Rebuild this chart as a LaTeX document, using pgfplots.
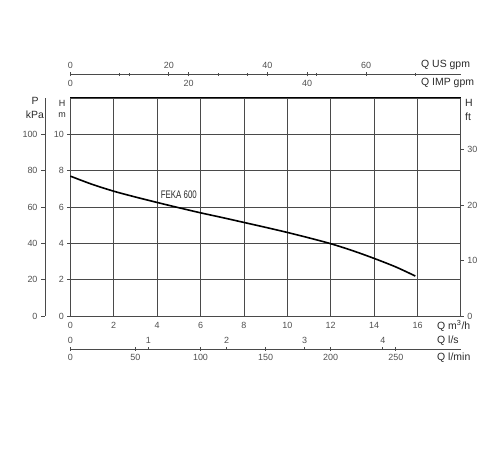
\documentclass[border=0pt]{standalone}
\usepackage{fontspec}
\setmainfont{Liberation Sans}
\newfontfamily\narrowfont[FakeStretch=0.72]{Liberation Sans}
\usepackage{pgfplots}
\pgfplotsset{compat=1.18}
\definecolor{gridc}{HTML}{4A4A4A}
\definecolor{tickc}{HTML}{505050}
\definecolor{labc}{HTML}{2A2A2A}
\pgfplotsset{
 common/.style={scale only axis,
   /pgf/number format/assume math mode=true,
   tick label style={font=\fontsize{9}{10}\selectfont, text=tickc},
   axis line style={-, color=gridc, line width=0.9bp},
   tick style={color=gridc, line width=0.8bp},
   major tick length=4bp, minor tick length=3bp, tick align=outside},
 noarrow/.style={x axis line style={-}, y axis line style={-}},
}
\begin{document}
\begin{tikzpicture}
\path[use as bounding box] (0,0) rectangle (500bp,450bp);

% main H (m) axis
\begin{axis}[common, at={(70.3bp,134bp)}, anchor=south west,
  width=390.6bp, height=218bp,
  xmin=0, xmax=18, ymin=0, ymax=12,
  xtick={0,2,...,16}, ytick={0,2,...,10},
  grid=major, major grid style={color=gridc, line width=0.8bp},
  xtick pos=bottom, ytick pos=left,
  xtick style={draw=none}, major tick length=3bp,
  clip=false]
\addplot[black, line width=1.6bp, smooth] coordinates {
 (0,7.7) (1,7.25) (2,6.87) (3,6.55) (4,6.25) (5,5.96) (6,5.68) (7,5.42)
 (8,5.15) (9,4.88) (10,4.6) (11,4.3) (12,3.98) (13,3.6) (14,3.17) (15,2.7) (15.9,2.2)};
\node[font=\narrowfont\fontsize{11}{12}\selectfont, text=labc] at (axis cs:5,6.67) {FEKA 600};
\draw[black, line width=1bp] (axis cs:0,12) -- (axis cs:18,12);
\end{axis}

% right H (ft) axis
\begin{axis}[common, at={(70.3bp,134bp)}, anchor=south west,
  width=390.6bp, height=218bp,
  xmin=0, xmax=18, ymin=0, ymax=39.37,
  axis x line=none, axis y line*=right, noarrow, ytick={0,10,20,30}, major tick length=3bp]
\end{axis}

% P (kPa) axis
\begin{axis}[common, at={(45bp,134bp)}, anchor=south west,
  width=5bp, height=218bp,
  xmin=0, xmax=1, ymin=0, ymax=120,
  axis x line=none, axis y line*=left, noarrow, ytick={0,20,...,100}]
\end{axis}

% top: US gpm (above) and IMP gpm (below)
\begin{axis}[common, at={(70.3bp,375.7bp)}, anchor=north west,
  width=390.6bp, height=10bp,
  xmin=0, xmax=79.25, ymin=0, ymax=1,
  axis y line=none, axis x line=top, noarrow,
  xtick={0,20,40,60}, minor xtick={10,30,50,70}]
\end{axis}
\begin{axis}[common, at={(70.3bp,375.7bp)}, anchor=south west,
  width=390.6bp, height=10bp,
  xmin=0, xmax=65.99, ymin=0, ymax=1,
  axis y line=none, axis x line=bottom, noarrow,
  xtick={0,20,40}, minor xtick={10,30,50}]
\end{axis}

% bottom: l/s (above) and l/min (below)
\begin{axis}[common, at={(70.3bp,101bp)}, anchor=north west,
  width=390.6bp, height=10bp,
  xmin=0, xmax=5, ymin=0, ymax=1,
  axis y line=none, axis x line=top, noarrow,
  xtick={0,1,2,3,4}, major tick length=3bp]
\end{axis}
\begin{axis}[common, at={(70.3bp,101bp)}, anchor=south west,
  width=390.6bp, height=10bp,
  xmin=0, xmax=300, ymin=0, ymax=1,
  axis y line=none, axis x line=bottom, noarrow,
  xtick={0,50,...,250}]
\end{axis}

% axis titles
\begin{scope}[every node/.style={font=\fontsize{10.5}{12}\selectfont, text=labc, inner sep=0pt}]
\node[anchor=west] at (421bp,385bp) {Q US gpm};
\node[anchor=west] at (421bp,367.5bp) {Q IMP gpm};
\node[anchor=west] at (437bp,124bp) {Q m\textsuperscript{3}/h};
\node[anchor=west] at (437bp,109bp) {Q l/s};
\node[anchor=west] at (437bp,92bp) {Q l/min};
\node at (35bp,349bp) {P};
\node at (35bp,335bp) {kPa};
\node[anchor=west] at (465bp,347bp) {H};
\node[anchor=west] at (465bp,333bp) {ft};
\end{scope}
\begin{scope}[every node/.style={font=\fontsize{9}{10}\selectfont, text=labc, inner sep=0pt}]
\node at (62bp,347bp) {H};
\node at (62bp,335bp) {m};
\end{scope}
\end{tikzpicture}
\end{document}
